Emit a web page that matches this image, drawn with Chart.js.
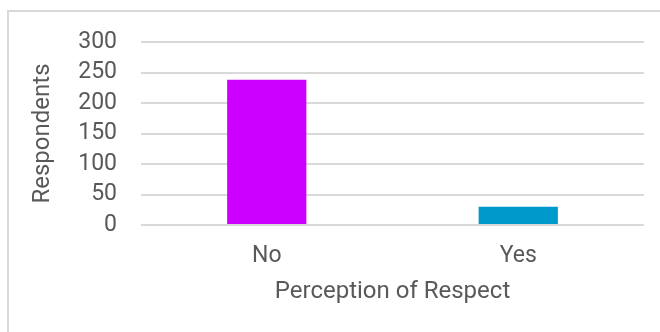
<!DOCTYPE html>
<html>
<head>
<meta charset="utf-8">
<script src="https://cdn.jsdelivr.net/npm/chart.js@4/dist/chart.umd.min.js"></script>
<style>
  html, body { margin: 0; padding: 0; background: #fff; overflow: hidden; }
  #frame { position: absolute; left: 7px; top: 10px; width: 700px; height: 400px; border: 2px solid #d9d9d9; box-sizing: border-box; }
  #wrap { position: absolute; left: 0; top: 0; width: 660px; height: 332px; }
</style>
</head>
<body>
<div id="frame"></div>
<div id="wrap"><canvas id="c" width="660" height="332"></canvas></div>
<script>
const categories = ["No", "Yes"];
const respondents = [238, 30];
const barColors = ["#CC00FF", "#0099CC"];
const yTicks = [0, 50, 100, 150, 200, 250, 300];
const xTitle = "Perception of Respect";
const yTitle = "Respondents";

const textColor = "#595959";
const fontFamily = "Roboto, 'Open Sans', sans-serif";

new Chart(document.getElementById("c"), {
  type: "bar",
  data: {
    labels: categories,
    datasets: [{
      data: respondents,
      backgroundColor: barColors,
      borderWidth: 0,
      barPercentage: 1,
      categoryPercentage: 0.315
    }]
  },
  options: {
    responsive: false,
    animation: false,
    devicePixelRatio: 1,
    layout: { padding: { left: 20, right: 16, top: 42, bottom: 26 } },
    plugins: { legend: { display: false }, tooltip: { enabled: false } },
    scales: {
      y: {
        min: 0, max: 300,
        afterBuildTicks: (s) => { s.ticks = yTicks.map(v => ({ value: v })); },
        afterFit: (s) => { s.width = 121; },
        border: { display: false },
        grid: { color: "#d9d9d9", lineWidth: 2, drawTicks: false },
        ticks: { color: textColor, font: { family: fontFamily, size: 23 }, padding: 24, autoSkip: false },
        title: { display: true, text: yTitle, color: textColor, font: { family: fontFamily, size: 24 }, padding: { top: 9, bottom: 0 } }
      },
      x: {
        afterFit: (s) => { s.height = 81; },
        border: { display: false },
        grid: { display: false, drawTicks: false },
        ticks: { color: textColor, font: { family: fontFamily, size: 23 }, padding: 17 },
        title: { display: true, text: xTitle, color: textColor, font: { family: fontFamily, size: 24 }, padding: { top: 4, bottom: 0 }, align: "center" }
      }
    }
  }
});
</script>
</body>
</html>
